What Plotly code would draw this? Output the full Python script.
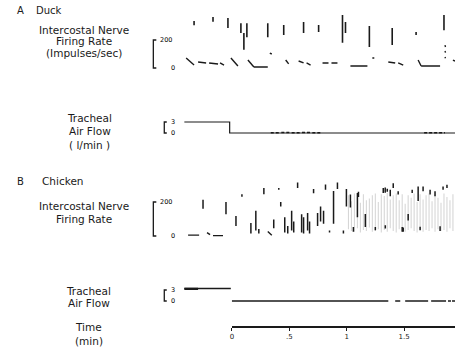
import plotly.graph_objects as go

W, H = 455, 352
X_MIN, X_MAX = -0.416, 1.943   # minutes

# ---------------- Duck: intercostal nerve firing rate (impulses/sec) ----------
duck_burst_t = [-0.33, -0.165, -0.035, 0.078, 0.104, 0.13, 0.312, 0.451, 0.624,
                0.755, 0.963, 0.989, 1.197, 1.396, 1.604, 1.847]
duck_burst_lo = [305, 330, 285, 250, 130, 220, 220, 235, 250, 257, 180, 250, 150, 165, 235, 270]
duck_burst_hi = [335, 365, 357, 320, 250, 320, 320, 307, 328, 307, 378, 328, 300, 285, 257, 378]

duck_base_t0 = [-0.399, -0.295, -0.199, -0.104, -0.009, 0.139, 0.191, 0.330, 0.468, 0.581, 0.650,
                0.789, 0.867, 1.032, 1.223, 1.362, 1.448, 1.622, 1.648, 1.856, 1.856, 1.856, 1.925]
duck_base_t1 = [-0.330, -0.225, -0.121, -0.069, 0.052, 0.191, 0.312, 0.347, 0.494, 0.624, 0.685,
                0.841, 0.919, 1.180, 1.240, 1.422, 1.492, 1.648, 1.813, 1.860, 1.860, 1.860, 1.943]
duck_base_r0 = [71, 43, 36, 36, 71, 57, 7, 107, 57, 50, 36, 36, 36, 14, 71, 43, 36, 57, 14, 164, 121, 79, 57]
duck_base_r1 = [21, 36, 29, 21, 14, 7, 7, 100, 29, 36, 21, 36, 36, 14, 71, 36, 21, 14, 14, 150, 110, 70, 50]

# ---------------- Duck: tracheal air flow (l/min) ----------------------------
duck_flow_t = [-0.416, -0.02, -0.02, 1.943]
duck_flow_v = [3.0, 3.0, 0.0, 0.0]
duck_noise_t0 = [0.338, 0.430, 0.520, 0.610, 0.700, 1.674]
duck_noise_t1 = [0.410, 0.500, 0.590, 0.680, 0.772, 1.856]
duck_noise_v = [0.1, 0.12, 0.1, 0.12, 0.1, 0.1]

# ---------------- Chicken: intercostal nerve firing rate ---------------------
chick_burst_t = [-0.252, -0.052, 0.035, 0.087, 0.165, 0.208, 0.234, 0.278, 0.364, 0.408, 0.425,
                 0.46, 0.486, 0.52, 0.538, 0.572, 0.607, 0.624, 0.659, 0.676, 0.711, 0.746, 0.772,
                 0.798, 0.815, 0.85, 0.885, 0.919, 0.971, 0.997, 1.032, 1.058, 1.093, 1.102, 1.162,
                 1.249, 1.318, 1.335, 1.353, 1.379, 1.405, 1.448, 1.483, 1.535, 1.57, 1.622, 1.665,
                 1.726, 1.769, 1.839, 1.873, 1.336, 1.492, 1.639, 1.813]
chick_burst_lo = [161, 128, 59, 231, 15, 33, 15, 246, 46, 272, 174, 20, 15, 33, 20, 282, 20, 15, 33,
                  15, 251, 59, 85, 72, 272, 20, 72, 277, 15, 174, 168, 25, 110, 230, 53, 34, 253,
                  255, 260, 234, 282, 244, 25, 91, 253, 206, 263, 244, 234, 272, 282, 44, 25, 34, 30]
chick_burst_hi = [213, 200, 118, 246, 77, 149, 41, 282, 97, 282, 200, 110, 59, 149, 85, 315, 128, 110,
                  136, 85, 277, 136, 174, 149, 303, 33, 264, 315, 33, 277, 244, 53, 253, 260, 130, 53,
                  282, 285, 278, 272, 310, 263, 53, 130, 272, 291, 291, 272, 263, 291, 301, 63, 50, 55, 58]

chick_base_t0 = [-0.382, -0.217, -0.165, 0.312]
chick_base_t1 = [-0.286, -0.191, -0.078, 0.347]
chick_base_r0 = [5, 20, 2, 26]
chick_base_r1 = [5, 8, 2, 5]

# faint grey streaks of the dense late firing
chick_grey_t = [1.015, 1.041, 1.067, 1.093, 1.119, 1.145, 1.171, 1.197, 1.223, 1.249, 1.275, 1.301,
                1.327, 1.353, 1.379, 1.405, 1.431, 1.457, 1.483, 1.509, 1.535, 1.561, 1.587, 1.613,
                1.639, 1.665, 1.691, 1.717, 1.743, 1.769, 1.795, 1.821, 1.847, 1.873, 1.899, 1.925]
chick_grey_lo = [40, 30, 25, 45, 20, 35, 30, 50, 25, 30, 40, 20, 35, 25, 45, 30, 20, 40, 30, 25,
                 35, 45, 30, 20, 40, 25, 35, 30, 45, 25, 40, 30, 35, 25, 45, 30]
chick_grey_hi = [240, 205, 250, 225, 195, 245, 210, 220, 240, 250, 200, 245, 235, 255, 215, 240,
                 250, 210, 245, 190, 240, 225, 250, 200, 245, 215, 240, 250, 205, 245, 225, 195,
                 250, 230, 210, 245]

# ---------------- Chicken: tracheal air flow ---------------------------------
chick_flow_t0 = [-0.416, 0.0, 1.422, 1.509, 1.735, 1.882, 1.917]
chick_flow_t1 = [-0.01, 1.362, 1.466, 1.709, 1.865, 1.908, 1.943]
chick_flow_v = [3.4, 0.0, 0.0, 0.0, 0.0, 0.0, 0.0]
chick_thick_t = [-0.416, -0.295]
chick_thick_v = [3.3, 3.3]

# ---------------- Time axis ---------------------------------------------------
time_ticks = [0, 0.5, 1, 1.5]
time_ticktext = ["0", ".5", "1", "1.5"]

FONT = "DejaVu Sans"
INK = "#1a1a1a"


def px_x(p):
    return p / W


def px_y(p):
    return 1 - p / H


def yaxis_for(top_px, bot_px, hi_px, lo_px, hi_val, lo_val):
    per_px = (hi_val - lo_val) / (lo_px - hi_px)
    rng = [lo_val - (bot_px - lo_px) * per_px, hi_val + (hi_px - top_px) * per_px]
    return dict(domain=[px_y(bot_px), px_y(top_px)], range=rng, visible=False,
                anchor="x", fixedrange=True)


def vsegs(t, lo, hi):
    xs, ys = [], []
    for a, b, c in zip(t, lo, hi):
        xs += [a, a, None]
        ys += [b, c, None]
    return xs, ys


def hsegs(t0, t1, v0, v1):
    xs, ys = [], []
    for a, b, c, d in zip(t0, t1, v0, v1):
        xs += [a, b, None]
        ys += [c, d, None]
    return xs, ys


fig = go.Figure()


def add(xs, ys, yax, width=1.2, color=INK, xax="x", dash="solid"):
    fig.add_trace(go.Scatter(x=xs, y=ys, xaxis=xax, yaxis=yax, mode="lines",
                             line=dict(color=color, width=width, dash=dash), showlegend=False,
                             hoverinfo="skip", connectgaps=False))


# duck firing
add(*vsegs(duck_burst_t, duck_burst_lo, duck_burst_hi), "y", width=1.6)
add(*hsegs(duck_base_t0, duck_base_t1, duck_base_r0, duck_base_r1), "y", width=1.4)
# duck flow
add(duck_flow_t, duck_flow_v, "y2", width=1.2)
add(*hsegs(duck_noise_t0, duck_noise_t1, duck_noise_v, duck_noise_v), "y2", width=1.5, dash="3px,2px")
# chicken firing
add(*vsegs(chick_grey_t, chick_grey_lo, chick_grey_hi), "y3", width=1.1, color="rgba(0,0,0,0.16)")
add(*vsegs(chick_burst_t, chick_burst_lo, chick_burst_hi), "y3", width=1.5)
add(*hsegs(chick_base_t0, chick_base_t1, chick_base_r0, chick_base_r1), "y3", width=1.4)
# chicken flow
add(*hsegs(chick_flow_t0, chick_flow_t1, chick_flow_v, chick_flow_v), "y4", width=1.4)
add(chick_thick_t, chick_thick_v, "y4", width=2.4)
# time axis carrier
fig.add_trace(go.Scatter(x=[0], y=[0], xaxis="x2", yaxis="y5", mode="markers",
                         marker=dict(opacity=0), showlegend=False, hoverinfo="skip"))

layout = dict(
    width=W, height=H, autosize=False, margin=dict(l=0, r=0, t=0, b=0),
    paper_bgcolor="white", plot_bgcolor="rgba(0,0,0,0)",
    xaxis=dict(domain=[px_x(183), 1], range=[X_MIN, X_MAX], visible=False, fixedrange=True),
    xaxis2=dict(domain=[px_x(231), 1], range=[0, X_MAX], anchor="y5", showline=True,
                linecolor=INK, linewidth=1.8, ticks="outside", ticklen=3, tickwidth=1,
                tickcolor=INK, tickvals=time_ticks, ticktext=time_ticktext,
                tickfont=dict(family=FONT, size=7, color=INK), showgrid=False,
                zeroline=False, fixedrange=True),
    yaxis=yaxis_for(8, 74, 40, 68, 200, 0),
    yaxis2=yaxis_for(110, 140, 122, 133, 3, 0),
    yaxis3=yaxis_for(176, 242, 202, 236, 200, 0),
    yaxis4=yaxis_for(280, 310, 290, 301, 3, 0),
    yaxis5=dict(domain=[px_y(326), px_y(318)], range=[0, 1], visible=False, anchor="x2"),
)
fig.update_layout(**layout)

# scale brackets
brackets = [("y", 152, 155, 200, 0), ("y2", 163, 165.5, 3, 0),
            ("y3", 152, 155, 200, 0), ("y4", 163, 165.5, 3, 0)]
for yref, x0, x1, hi, lo in brackets:
    a, b = px_x(x0), px_x(x1)
    fig.add_shape(type="path", xref="paper", yref=yref,
                  path=f"M {b},{hi} L {a},{hi} L {a},{lo} L {b},{lo}",
                  line=dict(color=INK, width=1.3))

scale_labels = [("y", 200, "200", 157), ("y", 0, "0", 168),
                ("y2", 3, "3", 168), ("y2", 0, "0", 168),
                ("y3", 200, "200", 157), ("y3", 0, "0", 168),
                ("y4", 3, "3", 168), ("y4", 0, "0", 168)]
for yref, val, txt, xp in scale_labels:
    fig.add_annotation(xref="paper", yref=yref, x=px_x(xp), y=val, text=txt,
                       showarrow=False, xanchor="left", yanchor="middle",
                       font=dict(family=FONT, size=6.5, color="black"))

labels = [
    ("A", 13, 10, "left", 10), ("Duck", 32, 10, "left", 10),
    ("Intercostal Nerve", 82, 30, "center", 10.5), ("Firing Rate", 82, 41, "center", 10.5),
    ("(Impulses/sec)", 82, 53, "center", 10.5),
    ("Tracheal", 88, 118, "center", 10.5), ("Air Flow", 88, 131, "center", 10.5),
    ("( l/min )", 88, 145, "center", 10.5),
    ("B", 13, 181, "left", 10), ("Chicken", 38, 181, "left", 10.5),
    ("Intercostal Nerve", 82, 206, "center", 10.5), ("Firing Rate", 82, 219, "center", 10.5),
    ("Tracheal", 87, 291, "center", 10.5), ("Air Flow", 87, 303, "center", 10.5),
    ("Time", 87, 327, "center", 10.5), ("(min)", 87, 341, "center", 10.5),
]
for txt, xp, yp, anc, sz in labels:
    fig.add_annotation(xref="paper", yref="paper", x=px_x(xp), y=px_y(yp), text=txt,
                       showarrow=False, xanchor=anc, yanchor="middle",
                       font=dict(family=FONT, size=sz, color=INK))

fig.write_html("out.html", config={"displayModeBar": False, "staticPlot": True},
               post_script="document.body.style.margin='0';")
